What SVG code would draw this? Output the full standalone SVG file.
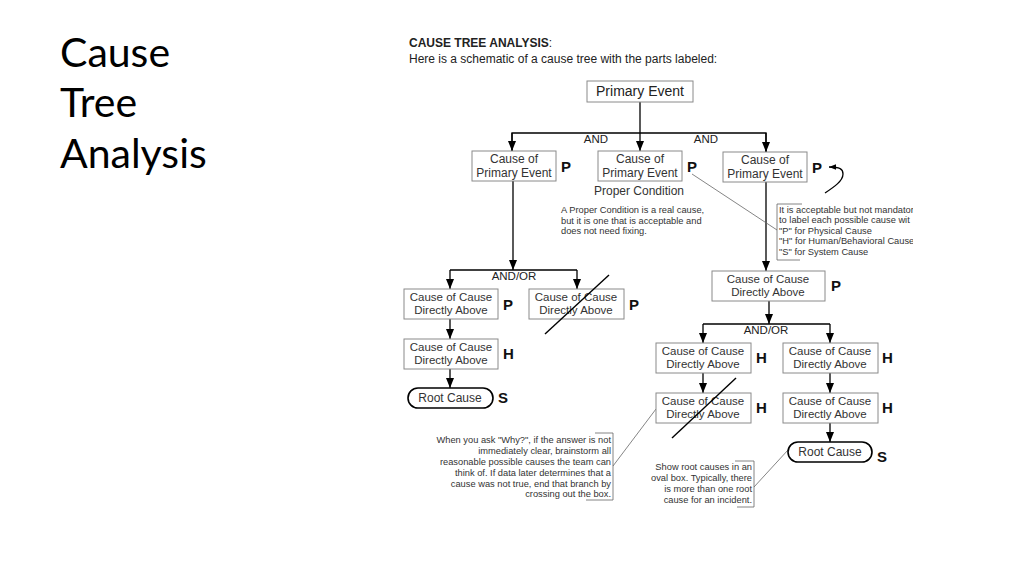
<svg xmlns="http://www.w3.org/2000/svg" width="1024" height="576" viewBox="0 0 1024 576">
<style>
.title{font-family:Lato,"Liberation Sans",sans-serif;font-size:41px;fill:#000}
.hd{font-family:"Liberation Sans",Arial,sans-serif;font-size:12px;fill:#222}
.box{fill:#fff;stroke:#8a8a8a;stroke-width:1}
.oval{fill:#fff;stroke:#000;stroke-width:1.6}
.bt{font-family:"Liberation Sans",Arial,sans-serif;font-size:11.5px;fill:#333;text-anchor:middle}
.bt12{font-family:"Liberation Sans",Arial,sans-serif;font-size:12px;fill:#333;text-anchor:middle}
.bt14{font-family:"Liberation Sans",Arial,sans-serif;font-size:14px;fill:#222;text-anchor:middle}
.lab{font-family:"Liberation Sans",Arial,sans-serif;font-size:15px;font-weight:bold;fill:#111}
.gate{font-family:"Liberation Sans",Arial,sans-serif;font-size:11.5px;fill:#222;text-anchor:middle}
.note{font-family:"Liberation Sans",Arial,sans-serif;font-size:9.3px;fill:#333}
.noteR{font-family:"Liberation Sans",Arial,sans-serif;font-size:9.3px;fill:#333;text-anchor:end}
.con{fill:none;stroke:#000;stroke-width:1.3}
.lead{fill:none;stroke:#666;stroke-width:0.8}
.cross{stroke:#000;stroke-width:1.4}
</style>
<defs>
<marker id="arr" markerUnits="userSpaceOnUse" markerWidth="10" markerHeight="10" viewBox="0 0 10 10" refX="10" refY="5" orient="auto">
<path d="M0,1 L10,5 L0,9 Z" fill="#000"/>
</marker>
<marker id="arrS" markerUnits="userSpaceOnUse" markerWidth="7" markerHeight="7" viewBox="0 0 10 10" refX="10" refY="5" orient="auto">
<path d="M0,1 L10,5 L0,9 Z" fill="#000"/>
</marker>
<clipPath id="clipR"><rect x="700" y="195" width="213" height="80"/></clipPath>
</defs>
<rect width="1024" height="576" fill="#fff"/>

<g id="title">
<text class="title" x="60" y="67">Cause</text>
<text class="title" x="60" y="117">Tree</text>
<text class="title" x="60" y="168">Analysis</text>
</g>

<g id="header">
<text class="hd" x="409" y="47"><tspan font-weight="bold">CAUSE TREE ANALYSIS</tspan>:</text>
<text class="hd" x="409" y="63">Here is a schematic of a cause tree with the parts labeled:</text>
</g>

<g id="connectors">
<path class="con" d="M640,102 V151" marker-end="url(#arr)"/>
<path class="con" d="M512,151 V133 H766 V152"/>
<path class="con" d="M512,133 V151" marker-end="url(#arr)"/>
<path class="con" d="M766,133 V152" marker-end="url(#arr)"/>
<path class="con" d="M513,181 V270" marker-end="url(#arr)"/>
<path class="con" d="M450,270 H577"/>
<path class="con" d="M450,270 V289" marker-end="url(#arr)"/>
<path class="con" d="M577,270 V289" marker-end="url(#arr)"/>
<path class="con" d="M450,319 V339" marker-end="url(#arr)"/>
<path class="con" d="M450,369 V388" marker-end="url(#arr)"/>
<path class="con" d="M766,182 V271" marker-end="url(#arr)"/>
<path class="con" d="M769,301 V324" marker-end="url(#arr)"/>
<path class="con" d="M703,324 H830"/>
<path class="con" d="M703,324 V343" marker-end="url(#arr)"/>
<path class="con" d="M830,324 V343" marker-end="url(#arr)"/>
<path class="con" d="M703,373 V393" marker-end="url(#arr)"/>
<path class="con" d="M830,373 V393" marker-end="url(#arr)"/>
<path class="con" d="M830,423 V442" marker-end="url(#arr)"/>
<path class="con" d="M825,193 C834,187 843,181 843,174 C843,169 840,167 829,167" stroke-width="0.9" marker-end="url(#arrS)"/>
<path class="lead" d="M692,174 L777,230"/>
<path class="lead" d="M613,466 L656,409"/>
<path class="lead" d="M754,487 L788,450"/>
</g>

<g id="gates">
<text class="gate" x="596" y="143">AND</text>
<text class="gate" x="706" y="143">AND</text>
<text class="gate" x="514" y="280">AND/OR</text>
<text class="gate" x="766" y="334">AND/OR</text>
</g>

<g id="primary-event">
<rect class="box" x="587" y="81" width="106" height="21"/>
<text class="bt14" x="640" y="96">Primary Event</text>
</g>

<g id="cause-1">
<rect class="box" x="472" y="151" width="84" height="30"/>
<text class="bt12" x="514" y="163">Cause of</text>
<text class="bt12" x="514" y="177">Primary Event</text>
<text class="lab" x="561" y="172">P</text>
</g>

<g id="cause-2">
<rect class="box" x="598" y="151" width="84" height="30"/>
<text class="bt12" x="640" y="163">Cause of</text>
<text class="bt12" x="640" y="177">Primary Event</text>
<text class="lab" x="687" y="172">P</text>
<text class="bt12" x="639" y="195">Proper Condition</text>
</g>

<g id="proper-note">
<text class="note" x="561" y="213">A Proper Condition is a real cause,</text>
<text class="note" x="561" y="224">but it is one that is acceptable and</text>
<text class="note" x="561" y="234">does not need fixing.</text>
</g>

<g id="cause-3">
<rect class="box" x="723" y="152" width="84" height="30"/>
<text class="bt12" x="765" y="164">Cause of</text>
<text class="bt12" x="765" y="178">Primary Event</text>
<text class="lab" x="812" y="173">P</text>
</g>

<g id="label-note">
<path class="lead" d="M802,204 H777 V260 H800"/>
<g clip-path="url(#clipR)">
<text class="note" x="779" y="213">It is acceptable but not mandator</text>
<text class="note" x="779" y="223">to label each possible cause wit</text>
<text class="note" x="779" y="234">"P" for Physical Cause</text>
<text class="note" x="779" y="244">"H" for Human/Behavioral Cause</text>
<text class="note" x="779" y="255">"S" for System Cause</text>
</g>
</g>

<g id="left-1">
<rect class="box" x="404" y="289" width="94" height="30"/>
<text class="bt" x="451" y="301">Cause of Cause</text>
<text class="bt" x="451" y="314">Directly Above</text>
<text class="lab" x="503" y="310">P</text>
</g>

<g id="left-2-crossed">
<rect class="box" x="529" y="289" width="95" height="30"/>
<text class="bt" x="576" y="301">Cause of Cause</text>
<text class="bt" x="576" y="314">Directly Above</text>
<text class="lab" x="629" y="310">P</text>
<line class="cross" x1="545" y1="334" x2="609" y2="275"/>
</g>

<g id="left-3">
<rect class="box" x="404" y="339" width="94" height="30"/>
<text class="bt" x="451" y="351">Cause of Cause</text>
<text class="bt" x="451" y="364">Directly Above</text>
<text class="lab" x="503" y="359">H</text>
</g>

<g id="root-left">
<rect class="oval" x="408" y="388" width="85" height="20" rx="10"/>
<text class="bt12" x="450" y="402">Root Cause</text>
<text class="lab" x="498" y="403">S</text>
</g>

<g id="right-1">
<rect class="box" x="712" y="271" width="113" height="30"/>
<text class="bt" x="768" y="283">Cause of Cause</text>
<text class="bt" x="768" y="296">Directly Above</text>
<text class="lab" x="831" y="291">P</text>
</g>

<g id="right-2">
<rect class="box" x="656" y="343" width="95" height="30"/>
<text class="bt" x="703" y="355">Cause of Cause</text>
<text class="bt" x="703" y="368">Directly Above</text>
<text class="lab" x="756" y="363">H</text>
</g>

<g id="right-3">
<rect class="box" x="783" y="343" width="95" height="30"/>
<text class="bt" x="830" y="355">Cause of Cause</text>
<text class="bt" x="830" y="368">Directly Above</text>
<text class="lab" x="882" y="363">H</text>
</g>

<g id="right-4-crossed">
<rect class="box" x="656" y="393" width="95" height="30"/>
<text class="bt" x="703" y="405">Cause of Cause</text>
<text class="bt" x="703" y="418">Directly Above</text>
<text class="lab" x="756" y="413">H</text>
<line class="cross" x1="672" y1="438" x2="736" y2="378"/>
</g>

<g id="right-5">
<rect class="box" x="783" y="393" width="95" height="30"/>
<text class="bt" x="830" y="405">Cause of Cause</text>
<text class="bt" x="830" y="418">Directly Above</text>
<text class="lab" x="882" y="413">H</text>
</g>

<g id="root-right">
<rect class="oval" x="788" y="442" width="84" height="20" rx="10"/>
<text class="bt12" x="830" y="456">Root Cause</text>
<text class="lab" x="877" y="462">S</text>
</g>

<g id="why-note">
<path class="lead" d="M595,433 H613 V500 H586"/>
<text class="noteR" x="611" y="443">When you ask "Why?", if the answer is not</text>
<text class="noteR" x="611" y="454">immediately clear, brainstorm all</text>
<text class="noteR" x="611" y="465">reasonable possible causes the team can</text>
<text class="noteR" x="611" y="476">think of.  If data later determines that a</text>
<text class="noteR" x="611" y="487">cause was not true, end that branch  by</text>
<text class="noteR" x="611" y="497">crossing out the box.</text>
</g>

<g id="root-note">
<path class="lead" d="M735,461 H754 V507 H737"/>
<text class="noteR" x="752" y="470">Show root causes in an</text>
<text class="noteR" x="752" y="481">oval box.  Typically, there</text>
<text class="noteR" x="752" y="492">is more than one root</text>
<text class="noteR" x="752" y="503">cause for an incident.</text>
</g>
</svg>
